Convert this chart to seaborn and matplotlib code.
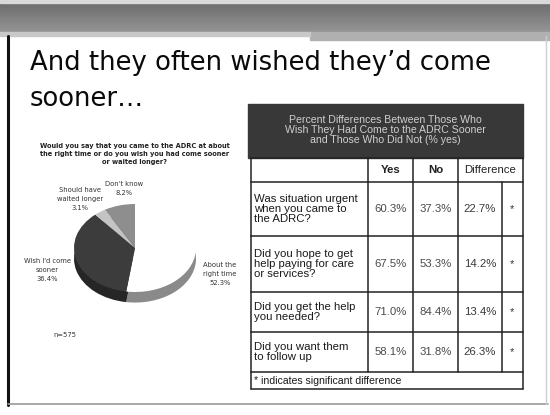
import numpy as np
import matplotlib
matplotlib.use("Agg")
import matplotlib.pyplot as plt
import seaborn as sns
from matplotlib.patches import Rectangle

sns.set_theme(style="white")
plt.rcParams["font.family"] = ["DejaVu Sans"]

# ---- data ----
pie_labels = ["About the\nright time", "Wish I'd come\nsooner", "Should have\nwaited longer", "Don't know"]
pie_values = [52.3, 36.4, 3.1, 8.2]
pie_question = ("Would you say that you came to the ADRC at about\n"
                "the right time or do you wish you had come sooner\n"
                "or waited longer?")
sample_note = "n=575"

table_title = ("Percent Differences Between Those Who\n"
               "Wish They Had Come to the ADRC Sooner\n"
               "and Those Who Did Not (% yes)")
col_headers = ["Yes", "No", "Difference"]
questions = ["Was situation urgent\nwhen you came to\nthe ADRC?",
             "Did you hope to get\nhelp paying for care\nor services?",
             "Did you get the help\nyou needed?",
             "Did you want them\nto follow up"]
yes_pct = [60.3, 67.5, 71.0, 58.1]
no_pct = [37.3, 53.3, 84.4, 31.8]
diff_pct = [22.7, 14.2, 13.4, 26.3]
significant = ["*", "*", "*", "*"]
footnote = "* indicates significant difference"

W, H = 550, 415
fig = plt.figure(figsize=(W / 100, H / 100), dpi=100)
fig.patch.set_facecolor("white")

# slide canvas in pixel units
bg = fig.add_axes([0, 0, 1, 1])
bg.set_xlim(0, W)
bg.set_ylim(H, 0)
bg.axis("off")

# top banner
grad = np.linspace(0.42, 0.58, 30)[:, None] * np.ones((1, 10))
bg.imshow(grad, cmap="gray", vmin=0, vmax=1, extent=(0, W, 32, 2), aspect="auto", zorder=1)
bg.add_patch(Rectangle((0, 0), W, 3, color="#d8d8d8", zorder=2))
bg.add_patch(Rectangle((310, 32), 240, 8, color="#b0b0b0", zorder=2))
bg.add_patch(Rectangle((0, 32), 310, 4, color="#c8c8c8", zorder=2))

# slide border
bg.plot([8, 8], [36, 405], color="#111111", lw=2.2, zorder=3)
bg.plot([8, 548], [404, 404], color="#9a9a9a", lw=1.2, zorder=3)
bg.plot([546, 546], [36, 404], color="#cfcfcf", lw=1.0, zorder=3)

# slide title
bg.text(30, 70, "And they often wished they\u2019d come", fontsize=18.6, color="#0a0a0a",
        va="baseline", ha="left", zorder=4)
bg.text(30, 106, "sooner\u2026", fontsize=18.6, color="#0a0a0a", va="baseline", ha="left", zorder=4)

# pie question
bg.text(135, 154, pie_question, fontsize=4.8, fontweight="bold", color="#222222",
        ha="center", va="center", linespacing=1.45, zorder=4)

# ---- pie (tilted, with a darker side rim) ----
px0, px1 = 74, 196
py_top, rx, ry = 204, 61, 44
rim_drop = 0.24
pie_ax = fig.add_axes([px0 / W, 1 - (py_top + ry * (2 + rim_drop)) / H,
                       (px1 - px0) / W, ry * (2 + rim_drop) / H])
top_colors = ["#ffffff", "#3c3c3c", "#c4c4c4", "#8e8e8e"]
rim_colors = ["#8a8a8a", "#262626", "#9a9a9a", "#666666"]
pie_ax.pie(pie_values, colors=rim_colors, startangle=90, counterclock=False,
           center=(0, -rim_drop), radius=1, wedgeprops=dict(linewidth=0))
pie_ax.pie(pie_values, colors=top_colors, startangle=90, counterclock=False,
           center=(0, 0), radius=1, wedgeprops=dict(linewidth=0))
pie_ax.set_xlim(-1, 1)
pie_ax.set_ylim(-1 - rim_drop, 1)
pie_ax.set_aspect("auto")
pie_ax.axis("off")

lab_kw = dict(fontsize=4.9, color="#333333", ha="center", va="center", linespacing=1.6, zorder=4)
bg.text(220, 274, f"{pie_labels[0]}\n{pie_values[0]:.1f}%", **lab_kw)
bg.text(47, 270, f"{pie_labels[1]}\n{pie_values[1]:.1f}%", **lab_kw)
bg.text(80, 199, f"{pie_labels[2]}\n{pie_values[2]:.1f}%", **lab_kw)
bg.text(124, 188, f"{pie_labels[3]}\n{pie_values[3]:.1f}%", **lab_kw)
bg.text(65, 335, sample_note, fontsize=4.9, color="#333333", ha="center", va="center", zorder=4)

# ---- comparison table ----
tf = ["Liberation Sans", "DejaVu Sans"]
x_left, x_q, x_yes, x_no, x_diff, x_star, x_right = 251, 251, 368, 413, 458, 502, 523
bg.add_patch(Rectangle((248, 104), x_right - 248, 54, color="#383838", zorder=3))
bg.text((248 + x_right) / 2, 130, table_title, fontsize=7.6, family=tf, color="#cfcfcf",
        ha="center", va="center", linespacing=1.0, zorder=4)

row_edges = [158, 182, 236, 292, 332, 372, 389]
lc = "#222222"
lw = 1.1
for y in row_edges:
    bg.plot([x_left, x_right], [y, y], color=lc, lw=lw, zorder=4)
bg.plot([x_left, x_left], [158, 389], color=lc, lw=lw, zorder=4)
bg.plot([x_right, x_right], [158, 389], color=lc, lw=lw, zorder=4)
for x in (x_yes, x_no, x_diff):
    bg.plot([x, x], [158, 372], color=lc, lw=lw, zorder=4)
bg.plot([x_star, x_star], [182, 372], color=lc, lw=lw, zorder=4)

fs = 8.2
hy = (row_edges[0] + row_edges[1]) / 2
bg.text((x_yes + x_no) / 2, hy, col_headers[0], fontsize=fs, family=tf, fontweight="bold",
        color="#222222", ha="center", va="center", zorder=5)
bg.text((x_no + x_diff) / 2, hy, col_headers[1], fontsize=fs, family=tf, fontweight="bold",
        color="#222222", ha="center", va="center", zorder=5)
bg.text((x_diff + x_right) / 2, hy, col_headers[2], fontsize=fs, family=tf,
        color="#222222", ha="center", va="center", zorder=5)

for i, q in enumerate(questions):
    y0, y1 = row_edges[i + 1], row_edges[i + 2]
    yc = (y0 + y1) / 2
    bg.text(x_q + 3, yc, q, fontsize=fs, family=tf, color="#1a1a1a", ha="left", va="center",
            linespacing=1.0, zorder=5)
    bg.text((x_yes + x_no) / 2, yc, f"{yes_pct[i]:.1f}%", fontsize=fs, family=tf,
            color="#4a4a4a", ha="center", va="center", zorder=5)
    bg.text((x_no + x_diff) / 2, yc, f"{no_pct[i]:.1f}%", fontsize=fs, family=tf,
            color="#4a4a4a", ha="center", va="center", zorder=5)
    bg.text((x_diff + x_star) / 2, yc, f"{diff_pct[i]:.1f}%", fontsize=fs, family=tf,
            color="#3a3a3a", ha="center", va="center", zorder=5)
    bg.text((x_star + x_right) / 2, yc, significant[i], fontsize=fs, family=tf,
            color="#333333", ha="center", va="center", zorder=5)

bg.text(x_q + 3, (row_edges[5] + row_edges[6]) / 2, footnote, fontsize=7.6, family=tf,
        color="#1a1a1a", ha="left", va="center", zorder=5)

fig.savefig("out.png", dpi=100, facecolor="white")
